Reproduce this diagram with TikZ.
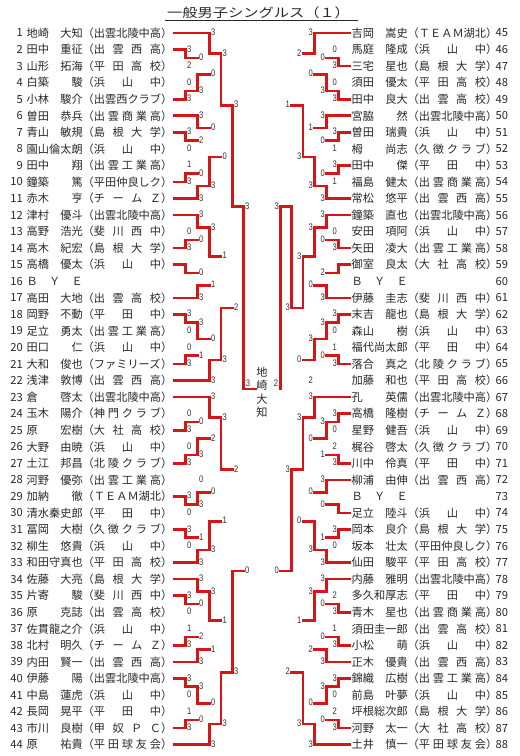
\documentclass[tikz,border=0pt]{standalone}
\usepackage{fontspec}
\usepackage{graphicx}
\setmainfont{Liberation Sans}
\newfontfamily\cjk{Noto Sans CJK JP}
\newfontfamily\scf{Liberation Sans}
\usetikzlibrary{calc}
\pgfdeclarelayer{back}
\pgfsetlayers{back,main}
\definecolor{lineR}{RGB}{214,22,22}
\definecolor{lineK}{RGB}{100,100,100}
\definecolor{txt}{RGB}{40,40,40}
\def\hh{\hfill}
\newcommand\sct[1]{\scalebox{0.8}[1]{#1}}
\newcommand\seg[2]{\ifx#1K\begin{pgfonlayer}{back}\draw[lk] #2;\end{pgfonlayer}\else\draw[lw] #2;\fi}
% name, barx, A, B, scoreA, scoreB, winner, hA, hB
\newcommand\M[9]{%
  \path let \p1=(#3), \p2=(#4) in (#2pt,{0.5*\y1+0.5*\y2}) coordinate (#1);
  \seg{#8}{let \p1=(#3) in (\p1) -- (#2pt,\y1)}%
  \seg{#9}{let \p1=(#4) in (\p1) -- (#2pt,\y1)}%
  \ifnum#7=1 \seg{W}{let \p1=(#3) in (#2pt,\y1) -- (#1)}\seg{K}{let \p1=(#4) in (#2pt,\y1) -- (#1)}%
  \else \seg{K}{let \p1=(#3) in (#2pt,\y1) -- (#1)}\seg{W}{let \p1=(#4) in (#2pt,\y1) -- (#1)}\fi
  \path let \p1=(#3), \p2=(#4) in
    node[sc,lab] (#1a) at (#2pt\loff pt,\y1+0.7pt) {\sct{#5}}
    node[sc,lab] (#1b) at (#2pt\loff pt,\y2+0.7pt) {\sct{#6}};
}
\newcommand\LN[3]{\pgfmathsetmacro\yy{33+(#1-1)*16.55}%
  \node[num,anchor=east] (no#1) at (23,\yy) {#1};
  \node[nm,anchor=west] (tx#1) at (26.5,\yy) {\makebox[5em]{#2}（\makebox[6em][s]{#3}）};}
\newcommand\LB[1]{\pgfmathsetmacro\yy{33+(#1-1)*16.55}%
  \node[num,anchor=east] (no#1) at (23,\yy) {#1};
  \node[nm,anchor=west] (tx#1) at (26.5,\yy) {\makebox[5em]{Ｂ\hh Ｙ\hh Ｅ}};}
\newcommand\RN[3]{\pgfmathsetmacro\yy{33+(#1-45)*16.55}%
  \node[nm,anchor=west] (tx#1) at (351.5,\yy) {\makebox[5em]{#2}（\makebox[6em][s]{#3}）};
  \node[num,anchor=west] (no#1) at (495.5,\yy) {#1};}
\newcommand\RB[1]{\pgfmathsetmacro\yy{33+(#1-45)*16.55}%
  \node[nm,anchor=west] (tx#1) at (351.5,\yy) {\makebox[5em]{Ｂ\hh Ｙ\hh Ｅ}};
  \node[num,anchor=west] (no#1) at (495.5,\yy) {#1};}
\def\La{185.5}\def\Lb{197.5}\def\Lc{209.5}\def\Ld{221}\def\Le{232.5}\def\Lf{243.5}
\def\Ra{338.5}\def\Rb{326.5}\def\Rc{314.5}\def\Rd{303}\def\Re{291.5}\def\Rf{280.5}
\tikzset{
  lw/.style={draw=lineR,line width=2.6pt,line cap=rect},
  lk/.style={draw=lineK,line width=0.9pt},
  sc/.style={inner sep=0pt,font=\scf\fontsize{9.5}{10}\selectfont,text=black!80},
  nm/.style={inner sep=0pt,font=\cjk\fontsize{11.2}{13}\selectfont,text=txt},
  num/.style={inner sep=0pt,font=\cjk\fontsize{11.2}{13}\selectfont,text=txt},
  lab/.style={anchor=west}
}
\begin{document}
\begin{tikzpicture}[x=1pt,y=-1pt]
\fill[white] (0,0) rectangle (520,756);
\useasboundingbox (0,0) rectangle (520,756);
% title
\node[inner sep=0pt,font=\cjk\fontsize{12.5}{14}\selectfont,text=txt] (title) at (258.5,13) {\scalebox{1.22}[1]{一般男子シングルス（１）}};
\draw[line width=1.1pt,txt] (165,20.5) -- (358,20.5);
% leaves
\foreach \i in {1,...,44}{\coordinate (l\i) at (174,{33+(\i-1)*16.55});}
\foreach \i in {45,...,88}{\coordinate (r\i) at (350,{33+(\i-45)*16.55});}
% left names
\LN{1}{地崎\hh 大知}{出雲北陵中高}
\LN{2}{田中\hh 重征}{出\hh 雲\hh 西\hh 高}
\LN{3}{山形\hh 拓海}{平\hh 田\hh 高\hh 校}
\LN{4}{白築\hh 駿}{浜\hh 山\hh 中}
\LN{5}{小林\hh 駿介}{出雲西クラブ}
\LN{6}{曽田\hh 恭兵}{出\hh 雲\hh 商\hh 業\hh 高}
\LN{7}{青山\hh 敏規}{島\hh 根\hh 大\hh 学}
\LN{8}{園山\hh 倫太朗}{浜\hh 山\hh 中}
\LN{9}{田中\hh 翔}{出\hh 雲\hh 工\hh 業\hh 高}
\LN{10}{鐘築\hh 篤}{平田仲良しク}
\LN{11}{赤木\hh 亨}{チ\hh ー\hh ム\hh Ｚ}
\LN{12}{津村\hh 優斗}{出雲北陵中高}
\LN{13}{高野\hh 浩光}{斐\hh 川\hh 西\hh 中}
\LN{14}{高木\hh 紀宏}{島\hh 根\hh 大\hh 学}
\LN{15}{高橋\hh 優太}{浜\hh 山\hh 中}
\LB{16}
\LN{17}{高田\hh 大地}{出\hh 雲\hh 高\hh 校}
\LN{18}{岡野\hh 不動}{平\hh 田\hh 中}
\LN{19}{足立\hh 勇太}{出\hh 雲\hh 工\hh 業\hh 高}
\LN{20}{田口\hh 仁}{浜\hh 山\hh 中}
\LN{21}{大和\hh 俊也}{ファミリーズ}
\LN{22}{浅津\hh 敦博}{出\hh 雲\hh 西\hh 高}
\LN{23}{倉\hh 啓太}{出雲北陵中高}
\LN{24}{玉木\hh 陽介}{神\hh 門\hh ク\hh ラ\hh ブ}
\LN{25}{原\hh 宏樹}{大\hh 社\hh 高\hh 校}
\LN{26}{大野\hh 由暁}{浜\hh 山\hh 中}
\LN{27}{土江\hh 邦昌}{北\hh 陵\hh ク\hh ラ\hh ブ}
\LN{28}{河野\hh 優弥}{出\hh 雲\hh 工\hh 業\hh 高}
\LN{29}{加納\hh 徹}{ＴＥＡＭ湖北}
\LN{30}{清水\hh 秦史郎}{平\hh 田\hh 中}
\LN{31}{冨岡\hh 大樹}{久\hh 徴\hh ク\hh ラ\hh ブ}
\LN{32}{柳生\hh 悠貴}{浜\hh 山\hh 中}
\LN{33}{和田守\hh 真也}{平\hh 田\hh 高\hh 校}
\LN{34}{佐藤\hh 大亮}{島\hh 根\hh 大\hh 学}
\LN{35}{片寄\hh 駿}{斐\hh 川\hh 西\hh 中}
\LN{36}{原\hh 克誌}{出\hh 雲\hh 高\hh 校}
\LN{37}{佐貫\hh 龍之介}{浜\hh 山\hh 中}
\LN{38}{北村\hh 明久}{チ\hh ー\hh ム\hh Ｚ}
\LN{39}{内田\hh 賢一}{出\hh 雲\hh 西\hh 高}
\LN{40}{伊藤\hh 陽}{出雲北陵中高}
\LN{41}{中島\hh 蓮虎}{浜\hh 山\hh 中}
\LN{42}{長岡\hh 晃平}{平\hh 田\hh 中}
\LN{43}{市川\hh 良樹}{甲\hh 奴\hh Ｐ\hh Ｃ}
\LN{44}{原\hh 祐貴}{平\hh 田\hh 球\hh 友\hh 会}
% right names
\RN{45}{吉岡\hh 嵩史}{ＴＥＡＭ湖北}
\RN{46}{馬庭\hh 隆成}{浜\hh 山\hh 中}
\RN{47}{三宅\hh 星也}{島\hh 根\hh 大\hh 学}
\RN{48}{須田\hh 優太}{平\hh 田\hh 高\hh 校}
\RN{49}{田中\hh 良大}{出\hh 雲\hh 高\hh 校}
\RN{50}{宮脇\hh 然}{出雲北陵中高}
\RN{51}{曽田\hh 瑞貴}{浜\hh 山\hh 中}
\RN{52}{栂\hh 尚志}{久\hh 徴\hh ク\hh ラ\hh ブ}
\RN{53}{田中\hh 傑}{平\hh 田\hh 中}
\RN{54}{福島\hh 健太}{出\hh 雲\hh 商\hh 業\hh 高}
\RN{55}{常松\hh 悠平}{出\hh 雲\hh 西\hh 高}
\RN{56}{鐘築\hh 直也}{出雲北陵中高}
\RN{57}{安田\hh 項阿}{浜\hh 山\hh 中}
\RN{58}{矢田\hh 凌大}{出\hh 雲\hh 工\hh 業\hh 高}
\RN{59}{御室\hh 良太}{大\hh 社\hh 高\hh 校}
\RB{60}
\RN{61}{伊藤\hh 圭志}{斐\hh 川\hh 西\hh 中}
\RN{62}{末吉\hh 龍也}{島\hh 根\hh 大\hh 学}
\RN{63}{森山\hh 樹}{浜\hh 山\hh 中}
\RN{64}{福代\hh 尚太郎}{平\hh 田\hh 中}
\RN{65}{落合\hh 真之}{北\hh 陵\hh ク\hh ラ\hh ブ}
\RN{66}{加藤\hh 和也}{平\hh 田\hh 高\hh 校}
\RN{67}{孔\hh 英儒}{出雲北陵中高}
\RN{68}{高橋\hh 隆樹}{チ\hh ー\hh ム\hh Ｚ}
\RN{69}{星野\hh 健吾}{浜\hh 山\hh 中}
\RN{70}{梶谷\hh 啓太}{久\hh 徴\hh ク\hh ラ\hh ブ}
\RN{71}{川中\hh 伶真}{平\hh 田\hh 中}
\RN{72}{柳浦\hh 由伸}{出\hh 雲\hh 西\hh 高}
\RB{73}
\RN{74}{足立\hh 陸斗}{浜\hh 山\hh 中}
\RN{75}{岡本\hh 良介}{島\hh 根\hh 大\hh 学}
\RN{76}{坂本\hh 壮太}{平田仲良しク}
\RN{77}{仙田\hh 駿平}{平\hh 田\hh 高\hh 校}
\RN{78}{内藤\hh 雅明}{出雲北陵中高}
\RN{79}{多久和\hh 厚志}{平\hh 田\hh 中}
\RN{80}{青木\hh 星也}{出\hh 雲\hh 商\hh 業\hh 高}
\RN{81}{須田\hh 圭一郎}{出\hh 雲\hh 高\hh 校}
\RN{82}{小松\hh 萌}{浜\hh 山\hh 中}
\RN{83}{正木\hh 優貴}{出\hh 雲\hh 西\hh 高}
\RN{84}{錦織\hh 広樹}{出\hh 雲\hh 工\hh 業\hh 高}
\RN{85}{前島\hh 叶夢}{浜\hh 山\hh 中}
\RN{86}{坪根\hh 総次郎}{島\hh 根\hh 大\hh 学}
\RN{87}{河野\hh 太一}{大\hh 社\hh 高\hh 校}
\RN{88}{土井\hh 慎一}{平\hh 田\hh 球\hh 友\hh 会}
% left bracket
\tikzset{lab/.style={anchor=west}}\def\loff{+1.4}
\M{a23}{\La}{l2}{l3}{3}{2}{1}{W}{K}
\M{a45}{\La}{l4}{l5}{0}{3}{2}{K}{W}
\M{a25}{\Lb}{a23}{a45}{0}{3}{2}{W}{W}
\M{a15}{\Lc}{l1}{a25}{3}{0}{1}{W}{W}
\M{a78}{\La}{l7}{l8}{3}{0}{1}{W}{K}
\M{a68}{\Lb}{l6}{a78}{3}{2}{1}{W}{W}
\M{a910}{\La}{l9}{l10}{1}{3}{2}{K}{W}
\M{a911}{\Lb}{a910}{l11}{0}{3}{2}{W}{W}
\M{a611}{\Lc}{a68}{a911}{0}{3}{2}{W}{W}
\M{a111}{\Ld}{a15}{a611}{3}{0}{1}{W}{W}
\M{a1314}{\La}{l13}{l14}{0}{3}{2}{K}{W}
\M{a1214}{\Lb}{l12}{a1314}{3}{0}{1}{W}{W}
\M{a1516}{\La}{l15}{l16}{}{}{1}{W}{K}
\M{a1517}{\Lb}{a1516}{l17}{0}{3}{2}{W}{W}
\M{a1217}{\Lc}{a1214}{a1517}{3}{1}{1}{W}{W}
\M{a1819}{\La}{l18}{l19}{3}{0}{1}{W}{K}
\M{a2021}{\La}{l20}{l21}{0}{3}{2}{K}{W}
\M{a1821}{\Lb}{a1819}{a2021}{3}{1}{1}{W}{W}
\M{a1822}{\Lc}{a1821}{l22}{0}{3}{2}{W}{W}
\M{a1222}{\Ld}{a1217}{a1822}{1}{3}{2}{W}{W}
\M{a122}{\Le}{a111}{a1222}{3}{2}{1}{W}{W}
\M{a2425}{\La}{l24}{l25}{0}{3}{2}{K}{W}
\M{a2627}{\La}{l26}{l27}{0}{3}{2}{K}{W}
\M{a2427}{\Lb}{a2425}{a2627}{0}{3}{2}{W}{W}
\M{a2327}{\Lc}{l23}{a2427}{3}{2}{1}{W}{W}
\M{a2930}{\La}{l29}{l30}{3}{0}{1}{W}{K}
\M{a2830}{\Lb}{l28}{a2930}{0}{3}{2}{K}{W}
\M{a3132}{\La}{l31}{l32}{3}{0}{1}{W}{K}
\M{a3133}{\Lb}{a3132}{l33}{1}{3}{2}{W}{W}
\M{a2833}{\Lc}{a2830}{a3133}{0}{3}{2}{W}{W}
\M{a2333}{\Ld}{a2327}{a2833}{3}{1}{1}{W}{W}
\M{a3536}{\La}{l35}{l36}{3}{0}{1}{W}{K}
\M{a3436}{\Lb}{l34}{a3536}{3}{0}{1}{W}{W}
\M{a3738}{\La}{l37}{l38}{1}{3}{2}{K}{W}
\M{a3739}{\Lb}{a3738}{l39}{2}{3}{2}{W}{W}
\M{a3439}{\Lc}{a3436}{a3739}{3}{1}{1}{W}{W}
\M{a4041}{\La}{l40}{l41}{3}{0}{1}{W}{K}
\M{a4243}{\La}{l42}{l43}{1}{3}{2}{K}{W}
\M{a4043}{\Lb}{a4041}{a4243}{3}{0}{1}{W}{W}
\M{a4044}{\Lc}{a4043}{l44}{0}{3}{2}{W}{W}
\M{a3444}{\Ld}{a3439}{a4044}{1}{3}{2}{W}{W}
\M{a2344}{\Le}{a2333}{a3444}{2}{3}{2}{W}{W}
\M{aL}{\Lf}{a122}{a2344}{3}{0}{1}{W}{W}
% right bracket
\tikzset{lab/.style={anchor=east}}\def\loff{-1.4}
\M{b4647}{\Ra}{r46}{r47}{0}{3}{2}{K}{W}
\M{b4849}{\Ra}{r48}{r49}{0}{3}{2}{K}{W}
\M{b4649}{\Rb}{b4647}{b4849}{0}{3}{2}{W}{W}
\M{b4549}{\Rc}{r45}{b4649}{3}{0}{1}{W}{W}
\M{b5152}{\Ra}{r51}{r52}{3}{1}{1}{W}{K}
\M{b5052}{\Rb}{r50}{b5152}{3}{0}{1}{W}{W}
\M{b5354}{\Ra}{r53}{r54}{3}{1}{1}{W}{K}
\M{b5355}{\Rb}{b5354}{r55}{0}{3}{2}{W}{W}
\M{b5055}{\Rc}{b5052}{b5355}{1}{3}{2}{W}{W}
\M{b4555}{\Rd}{b4549}{b5055}{2}{3}{2}{W}{W}
\M{b5758}{\Ra}{r57}{r58}{0}{3}{2}{K}{W}
\M{b5658}{\Rb}{r56}{b5758}{3}{0}{1}{W}{W}
\M{b5960}{\Ra}{r59}{r60}{}{}{1}{W}{K}
\M{b5961}{\Rb}{b5960}{r61}{2}{3}{2}{W}{W}
\M{b5661}{\Rc}{b5658}{b5961}{3}{0}{1}{W}{W}
\M{b6263}{\Ra}{r62}{r63}{3}{0}{1}{W}{K}
\M{b6465}{\Ra}{r64}{r65}{1}{3}{2}{K}{W}
\M{b6265}{\Rb}{b6263}{b6465}{3}{0}{1}{W}{W}
\M{b6266}{\Rc}{b6265}{r66}{3}{2}{1}{W}{K}
\M{b5666}{\Rd}{b5661}{b6266}{3}{0}{1}{W}{W}
\M{b4566}{\Re}{b4555}{b5666}{1}{3}{2}{W}{W}
\M{b6869}{\Ra}{r68}{r69}{3}{0}{1}{W}{K}
\M{b7071}{\Ra}{r70}{r71}{2}{3}{2}{K}{W}
\M{b6871}{\Rb}{b6869}{b7071}{3}{1}{1}{W}{W}
\M{b6771}{\Rc}{r67}{b6871}{3}{0}{1}{W}{W}
\M{b7374}{\Ra}{r73}{r74}{}{}{2}{K}{W}
\M{b7274}{\Rb}{r72}{b7374}{3}{0}{1}{W}{W}
\M{b7576}{\Ra}{r75}{r76}{3}{0}{1}{W}{K}
\M{b7577}{\Rb}{b7576}{r77}{1}{3}{2}{W}{W}
\M{b7277}{\Rc}{b7274}{b7577}{0}{3}{2}{W}{W}
\M{b6777}{\Rd}{b6771}{b7277}{3}{0}{1}{W}{W}
\M{b7980}{\Ra}{r79}{r80}{2}{3}{2}{K}{W}
\M{b7880}{\Rb}{r78}{b7980}{3}{0}{1}{W}{W}
\M{b8182}{\Ra}{r81}{r82}{1}{3}{2}{K}{W}
\M{b8183}{\Rb}{b8182}{r83}{0}{3}{2}{W}{W}
\M{b7883}{\Rc}{b7880}{b8183}{3}{2}{1}{W}{W}
\M{b8485}{\Ra}{r84}{r85}{3}{0}{1}{W}{K}
\M{b8687}{\Ra}{r86}{r87}{2}{3}{2}{K}{W}
\M{b8487}{\Rb}{b8485}{b8687}{3}{0}{1}{W}{W}
\M{b8488}{\Rc}{b8487}{r88}{0}{3}{2}{W}{W}
\M{b7888}{\Rd}{b7883}{b8488}{1}{3}{2}{W}{W}
\M{b6788}{\Re}{b6777}{b7888}{3}{2}{1}{W}{W}
\M{bR}{\Rf}{b4566}{b6788}{3}{0}{1}{W}{W}
% final
\node[nm,align=center,font=\cjk\fontsize{11.2}{13.5}\selectfont,inner sep=0.5pt] (champ) at (262,392) {地\\崎\\大\\知};
\draw[lw] (aL) -- (aL -| champ.west);
\begin{pgfonlayer}{back}\draw[lk] (bR) -- (bR -| champ.east);\end{pgfonlayer}
\node[sc,anchor=west] (fL) at ($(aL)+(2.2,-5.5)$) {\sct{3}};
\node[sc,anchor=east] (fR) at ($(bR)+(-2.2,-5.5)$) {\sct{2}};
\end{tikzpicture}
\end{document}
